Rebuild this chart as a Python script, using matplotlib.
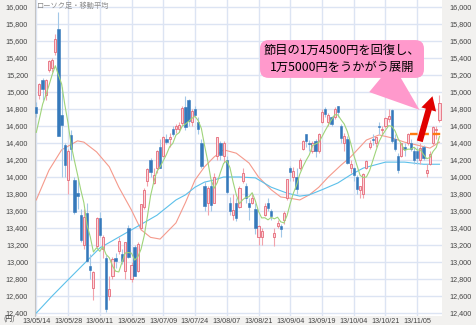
import numpy as np
import matplotlib.pyplot as plt

plt.rcParams['font.family'] = ['Liberation Sans Narrow', 'Liberation Sans', 'Noto Sans CJK JP']

# 日経平均 日足 (2013/05/14 - 2013/11/14)
opens = [14824, 14960, 15140, 14960, 15260, 15280, 15470, 15740, 14730, 14380,
         13960, 14490, 13965, 13810, 13550, 13200, 13580, 12950, 12700, 13190,
         13520, 13150, 13050, 12600, 12840, 13050, 13130, 13100, 12900, 13400,
         12800, 13180, 12900, 13400, 13650, 13950, 14200, 13930, 14100, 14350,
         14250, 14450, 14450, 14560, 14560, 14560, 14640, 14820, 14900, 14650,
         14800, 14650, 14400, 13900, 13700, 13900, 13700, 14250, 14400, 14250,
         14200, 13700, 13550, 13700, 13650, 13950, 13900, 13700, 13700, 13620,
         13300, 13300, 13550, 13700, 13600, 13300, 13420, 13420, 13500, 13750,
         14100, 14000, 14000, 14100, 14330, 14500, 14400, 14300, 14420, 14300,
         14650, 14800, 14650, 14700, 14700, 14830, 14600, 14400, 14450, 14100,
         14100, 14000, 13850, 13800, 14100, 14350, 14450, 14400, 14600, 14550,
         14600, 14680, 14790, 14450, 14250, 14250, 14350, 14400, 14400, 14300,
         14300, 14200, 14350, 14045, 14150, 14400, 14550, 14670]
highs = [14880, 15108, 15160, 15150, 15380, 15400, 15680, 15942, 15060, 14400,
         14330, 14550, 14000, 13990, 13620, 13620, 13700, 13100, 12900, 13530,
         13590, 13320, 13080, 12840, 13060, 13110, 13300, 13150, 13240, 13430,
         13000, 13200, 13230, 13680, 13870, 14110, 14220, 14100, 14320, 14450,
         14480, 14500, 14520, 14600, 14620, 14650, 14830, 14953, 14920, 14800,
         14830, 14700, 14450, 13950, 13900, 13950, 14050, 14470, 14420, 14420,
         14250, 13760, 13800, 13750, 13900, 14100, 13930, 13750, 13800, 13700,
         13440, 13400, 13700, 13750, 13620, 13400, 13500, 13450, 13600, 13980,
         14130, 14120, 14100, 14220, 14430, 14500, 14430, 14420, 14450, 14520,
         14800, 14820, 14750, 14720, 14820, 14840, 14620, 14520, 14480, 14200,
         14120, 14020, 13900, 14050, 14200, 14430, 14500, 14470, 14650, 14600,
         14700, 14800, 14800, 14500, 14280, 14400, 14400, 14520, 14450, 14350,
         14350, 14400, 14380, 14150, 14300, 14600, 14600, 14960]
lows = [14700, 14920, 14900, 14900, 15240, 15230, 15440, 14483, 14000, 14000,
        13800, 14200, 13560, 13620, 13240, 13150, 13000, 12800, 12548, 13170,
        13290, 13050, 12415, 12550, 12800, 12930, 13090, 12980, 12800, 13050,
        12760, 12840, 12880, 13380, 13620, 13900, 14000, 13920, 14050, 14100,
        14230, 14390, 14350, 14480, 14520, 14530, 14610, 14550, 14600, 14600,
        14700, 14500, 14100, 13600, 13550, 13600, 13690, 14200, 14200, 14180,
        13800, 13550, 13500, 13480, 13640, 13930, 13700, 13500, 13680, 13330,
        13200, 13200, 13540, 13600, 13500, 13188, 13400, 13300, 13450, 13730,
        13950, 13950, 13800, 14080, 14320, 14350, 14300, 14280, 14240, 14280,
        14640, 14700, 14600, 14600, 14680, 14700, 14400, 14300, 14150, 14050,
        13950, 13800, 13750, 13750, 14090, 14330, 14380, 14350, 14500, 14500,
        14580, 14650, 14400, 14300, 14050, 14240, 14250, 14380, 14300, 14150,
        14150, 14150, 14200, 14000, 14140, 14380, 14450, 14650]
closes = [14758, 15096, 15037, 15138, 15360, 15381, 15627, 14483, 14612, 14142,
          14311, 14326, 13589, 13774, 13262, 13534, 13014, 12904, 12877, 13514,
          13318, 13289, 12445, 12686, 13033, 13007, 13245, 13014, 13230, 13062,
          12969, 12834, 13213, 13677, 13852, 14099, 14055, 14018, 14309, 14109,
          14472, 14416, 14472, 14506, 14599, 14615, 14808, 14589, 14658, 14778,
          14731, 14562, 14129, 13661, 13869, 13668, 14005, 14466, 14258, 14401,
          13824, 13605, 13615, 13519, 13867, 14050, 13752, 13650, 13758, 13396,
          13424, 13365, 13660, 13636, 13542, 13338, 13459, 13389, 13572, 13978,
          14053, 14065, 13860, 14205, 14423, 14425, 14387, 14404, 14311, 14505,
          14766, 14742, 14733, 14620, 14799, 14760, 14455, 14484, 14170, 14157,
          14024, 13853, 13894, 14037, 14194, 14404, 14441, 14467, 14586, 14561,
          14693, 14713, 14426, 14325, 14088, 14396, 14325, 14502, 14327, 14201,
          14225, 14337, 14228, 14086, 14269, 14588, 14567, 14876]
# 5日線の計算用 (5/8 - 5/13 の終値)
prev_closes = [14285, 14191, 14607, 14782]

# 25日線・75日線 (足の番号と値)
ma25_idx = [0, 4, 8, 13, 15, 19, 23, 26, 30, 33, 36, 39, 44, 47, 50, 53, 56, 59, 63,
            67, 70, 74, 77, 80, 83, 86, 89, 92, 96, 99, 104, 108, 112, 116, 120, 124, 127]
ma25 = [13730, 14080, 14320, 14425, 14410, 14295, 14120, 13880, 13610, 13380, 13290,
        13270, 13460, 13700, 13965, 14120, 14235, 14320, 14280, 14165, 14000, 13850,
        13765, 13750, 13730, 13790, 13880, 14000, 14140, 14235, 14435, 14495, 14460,
        14410, 14375, 14340, 14410]
ma75_idx = [0, 5, 10, 20, 31, 38, 44, 47, 50, 53, 56, 59, 64, 69, 74, 79, 83, 86,
            90, 95, 99, 103, 110, 116, 122, 127]
ma75 = [12400, 12600, 12790, 13165, 13400, 13550, 13730, 13790, 13880, 13940, 13965,
        14000, 14000, 13990, 13880, 13810, 13775, 13790, 13850, 13930, 14025, 14105,
        14175, 14175, 14150, 14150]

tick_labels = ['13/05/14', '13/05/28', '13/06/11', '13/06/25', '13/07/09', '13/07/24',
               '13/08/07', '13/08/21', '13/09/04', '13/09/19', '13/10/04', '13/10/21',
               '13/11/05']
level = 14500

o = np.array(opens)
h = np.array(highs)
l = np.array(lows)
c = np.array(closes)
x = np.arange(len(c))
up = c >= o

allc = np.concatenate([prev_closes, c])
ma5 = np.convolve(allc, np.ones(5) / 5, mode='valid')

fig = plt.figure(figsize=(4.76, 3.25), dpi=100, facecolor='#f2f1ef')
ax = fig.add_axes([35 / 476, 9 / 325, 407 / 476, 316 / 325])
ax.set_facecolor('white')

# ろうそく足
ax.vlines(x[up], l[up], h[up], color='#f2a3ab', lw=0.8, zorder=3)
ax.vlines(x[~up], l[~up], h[~up], color='#a3c8e8', lw=0.8, zorder=3)
body = np.maximum(np.abs(c - o), 8)
bottom = np.minimum(o, c)
ax.bar(x[up], body[up], bottom=bottom[up], width=0.66, color='#fbd6dc',
       edgecolor='#e66a79', linewidth=0.6, zorder=4)
ax.bar(x[~up], body[~up], bottom=bottom[~up], width=0.76, color='#3579bb',
       edgecolor='#3579bb', linewidth=0.4, zorder=4)

# 移動平均
ax.plot(x, ma5, color='#9fd47a', lw=0.8, zorder=5)
ax.plot(ma25_idx, ma25, color='#f59a8c', lw=0.8, zorder=2)
ax.plot(ma75_idx, ma75, color='#5cc0ea', lw=0.8, zorder=2)

ax.set_xlim(-0.4, 127.8)
ax.set_ylim(12365, 16082)
ax.set_yticks(np.arange(12400, 16001, 200))
ax.yaxis.set_major_formatter(plt.FuncFormatter(lambda v, p: '{:,.0f}'.format(v)))
ax.set_xticks(np.arange(0, len(c), 10))
ax.set_xticklabels(tick_labels)
ax.tick_params(axis='y', labelleft=True, labelright=True, length=0, pad=5,
               labelsize=5.2, labelcolor='#444444')
ax.tick_params(axis='x', length=0, pad=1.5, labelsize=5.2, labelcolor='#444444')
ax.grid(True, color='#dce4f3', lw=1.0, zorder=0)
ax.set_axisbelow(True)
for s in ['top', 'right', 'bottom']:
    ax.spines[s].set_visible(False)
ax.spines['left'].set_color('#c4c4c4')

ax.text(0.006, 0.993, 'ローソク足・移動平均', transform=ax.transAxes, ha='left', va='top',
        fontsize=5.2, color='#8a8a8a', family=['Noto Sans CJK JP'])

# 節目ライン
ax.hlines(level, 117.6, 127.8, colors='#ff7a10', linestyles=(0, (3.2, 1.6)), lw=1.7, zorder=6)

ax.annotate('', xy=(124.8, 14950), xytext=(120.8, 14420),
            arrowprops=dict(arrowstyle='simple,head_width=1.0,head_length=0.9,tail_width=0.4',
                            fc='#e00000', ec='none', mutation_scale=11, shrinkA=0, shrinkB=0),
            zorder=8)

ax.annotate('節目の1万4500円を回復し、\n1万5000円をうかがう展開',
            xy=(120.7, 14790), xycoords='data',
            xytext=(342 / 476, 1 - 59 / 325), textcoords='figure fraction',
            ha='center', va='center', fontsize=8.8, linespacing=1.45,
            family=['Noto Sans CJK JP'], color='black', zorder=9,
            bbox=dict(boxstyle='round,pad=0.3,rounding_size=0.7', fc='#ff99cc', ec='none'),
            arrowprops=dict(arrowstyle='wedge,tail_width=3.0,shrink_factor=0.5',
                            fc='#ff99cc', ec='none', relpos=(0.72, 0.0),
                            shrinkA=0, shrinkB=0))

fig.text(3 / 476, 1 - 320 / 325, '(円)', ha='left', va='center', fontsize=5,
         color='#444444', family=['Noto Sans CJK JP'])

fig.savefig('out.png', dpi=100, facecolor=fig.get_facecolor())
